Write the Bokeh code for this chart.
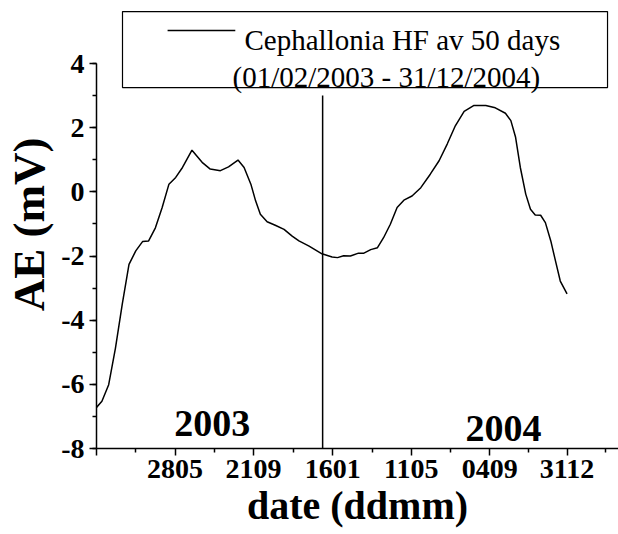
from bokeh.plotting import figure
from bokeh.models import (Range1d, FixedTicker, SingleIntervalTicker, Label,
                          BoxAnnotation)
from bokeh.embed import file_html
from bokeh.resources import INLINE

# ---- data: days since 01/02/2003, AE (mV), 50-day running average ----
day = [0, 8, 18, 28, 38, 48, 58, 68, 77, 87, 97, 107, 117, 127, 141, 156,
       168, 183, 195, 209, 218, 228, 235, 242, 252, 264, 277, 289, 299, 314,
       333, 348, 356, 365, 375, 387, 395, 405, 415, 424, 434, 444, 454, 466,
       479, 493, 506, 518, 530, 543, 557, 575, 589, 604, 612, 619, 626, 634,
       641, 648, 656, 663, 671, 678, 685, 695]
ae = [-6.72, -6.53, -6.01, -4.87, -3.51, -2.26, -1.84, -1.55, -1.53, -1.12,
      -0.49, 0.24, 0.45, 0.76, 1.30, 0.92, 0.71, 0.66, 0.78, 0.99, 0.76, 0.24,
      -0.28, -0.70, -0.93, -1.04, -1.17, -1.38, -1.53, -1.69, -1.93, -2.03,
      -2.05, -1.99, -2.00, -1.91, -1.91, -1.80, -1.74, -1.43, -1.01, -0.49,
      -0.26, -0.13, 0.13, 0.55, 0.97, 1.49, 2.06, 2.51, 2.69, 2.69, 2.62,
      2.45, 2.22, 1.70, 0.76, -0.07, -0.54, -0.72, -0.73, -0.96, -1.53,
      -2.16, -2.78, -3.18]

tick_days = [0, 116, 232, 349, 465, 581, 695]
tick_labels = ["", "2805", "2109", "1601", "1105", "0409", "3112"]
year_boundary_day = 334
year_labels = ["2003", "2004"]
legend_lines = ["Cephallonia HF av 50 days", "(01/02/2003 - 31/12/2004)"]

SERIF = "Liberation Serif"

p = figure(width=618, height=534, output_backend="svg", toolbar_location=None,
           x_range=Range1d(0, 771.0), y_range=Range1d(-8, 5.965),
           min_border_left=96, min_border_right=0, min_border_top=0,
           min_border_bottom=86)
p.outline_line_color = None
p.grid.visible = False
p.background_fill_color = "white"
p.border_fill_color = "white"

# curve
p.line(day, ae, line_color="black", line_width=1.5)

# year boundary line
p.segment(x0=[year_boundary_day], y0=[-8], x1=[year_boundary_day], y1=[3.0],
          line_color="black", line_width=1.5)

# axes
minor = [(a + b) / 2 for a, b in zip(tick_days[:-1], tick_days[1:])]
minor.append(tick_days[-1] + (tick_days[-1] - tick_days[-2]) / 2)

common = dict(axis_line_width=1.5, major_tick_line_width=1.5,
              minor_tick_line_width=1.5, major_tick_out=7, major_tick_in=0,
              minor_tick_out=4, minor_tick_in=0,
              major_label_text_font=SERIF, major_label_text_font_style="bold",
              major_label_text_font_size="28px",
              major_label_text_color="black",
              axis_label_text_font=SERIF, axis_label_text_font_style="bold",
              axis_label_text_color="black", axis_line_color="black",
              major_tick_line_color="black", minor_tick_line_color="black")

p.xaxis.update(**common)
p.yaxis.update(**common)

p.xaxis.ticker = FixedTicker(ticks=tick_days, minor_ticks=minor)
p.xaxis.major_label_overrides = {d: l for d, l in zip(tick_days, tick_labels)}
p.yaxis.ticker = SingleIntervalTicker(interval=2, num_minor_ticks=2)
p.yaxis.bounds = (-8, 4)
p.yaxis.major_label_overrides = {v: str(v) for v in range(-8, 5, 2)}

p.xaxis.axis_label = "date (ddmm)"
p.xaxis.axis_label_text_font_size = "40px"
p.xaxis.major_label_standoff = 4
p.xaxis.axis_label_standoff = 2
p.yaxis.axis_label = "AE (mV)"
p.yaxis.axis_label_text_font_size = "45px"
p.yaxis.major_label_standoff = 5
p.yaxis.axis_label_standoff = 4

# year labels
for x, y, t in zip([171, 601], [-7.22, -7.38], year_labels):
    p.add_layout(Label(x=x, y=y, text=t, text_align="center",
                       text_baseline="alphabetic", text_font=SERIF,
                       text_font_style="bold", text_font_size="38px",
                       text_color="black"))

# legend box
p.add_layout(BoxAnnotation(left=38.4, right=754.8, bottom=3.25, top=5.62,
                           fill_alpha=0, line_color="black", line_alpha=1.0,
                           line_width=1.2, level="overlay"))
p.segment(x0=[105], y0=[5.03], x1=[205], y1=[5.03], line_color="black",
          line_width=1.5)
for x, y, t in zip([218.6, 200.9], [4.72, 3.565], legend_lines):
    p.add_layout(Label(x=x, y=y, text=t, text_align="left",
                       text_baseline="alphabetic", text_font=SERIF,
                       text_font_size="29px", text_color="black"))

open("out.html", "w").write(file_html(p, INLINE))
